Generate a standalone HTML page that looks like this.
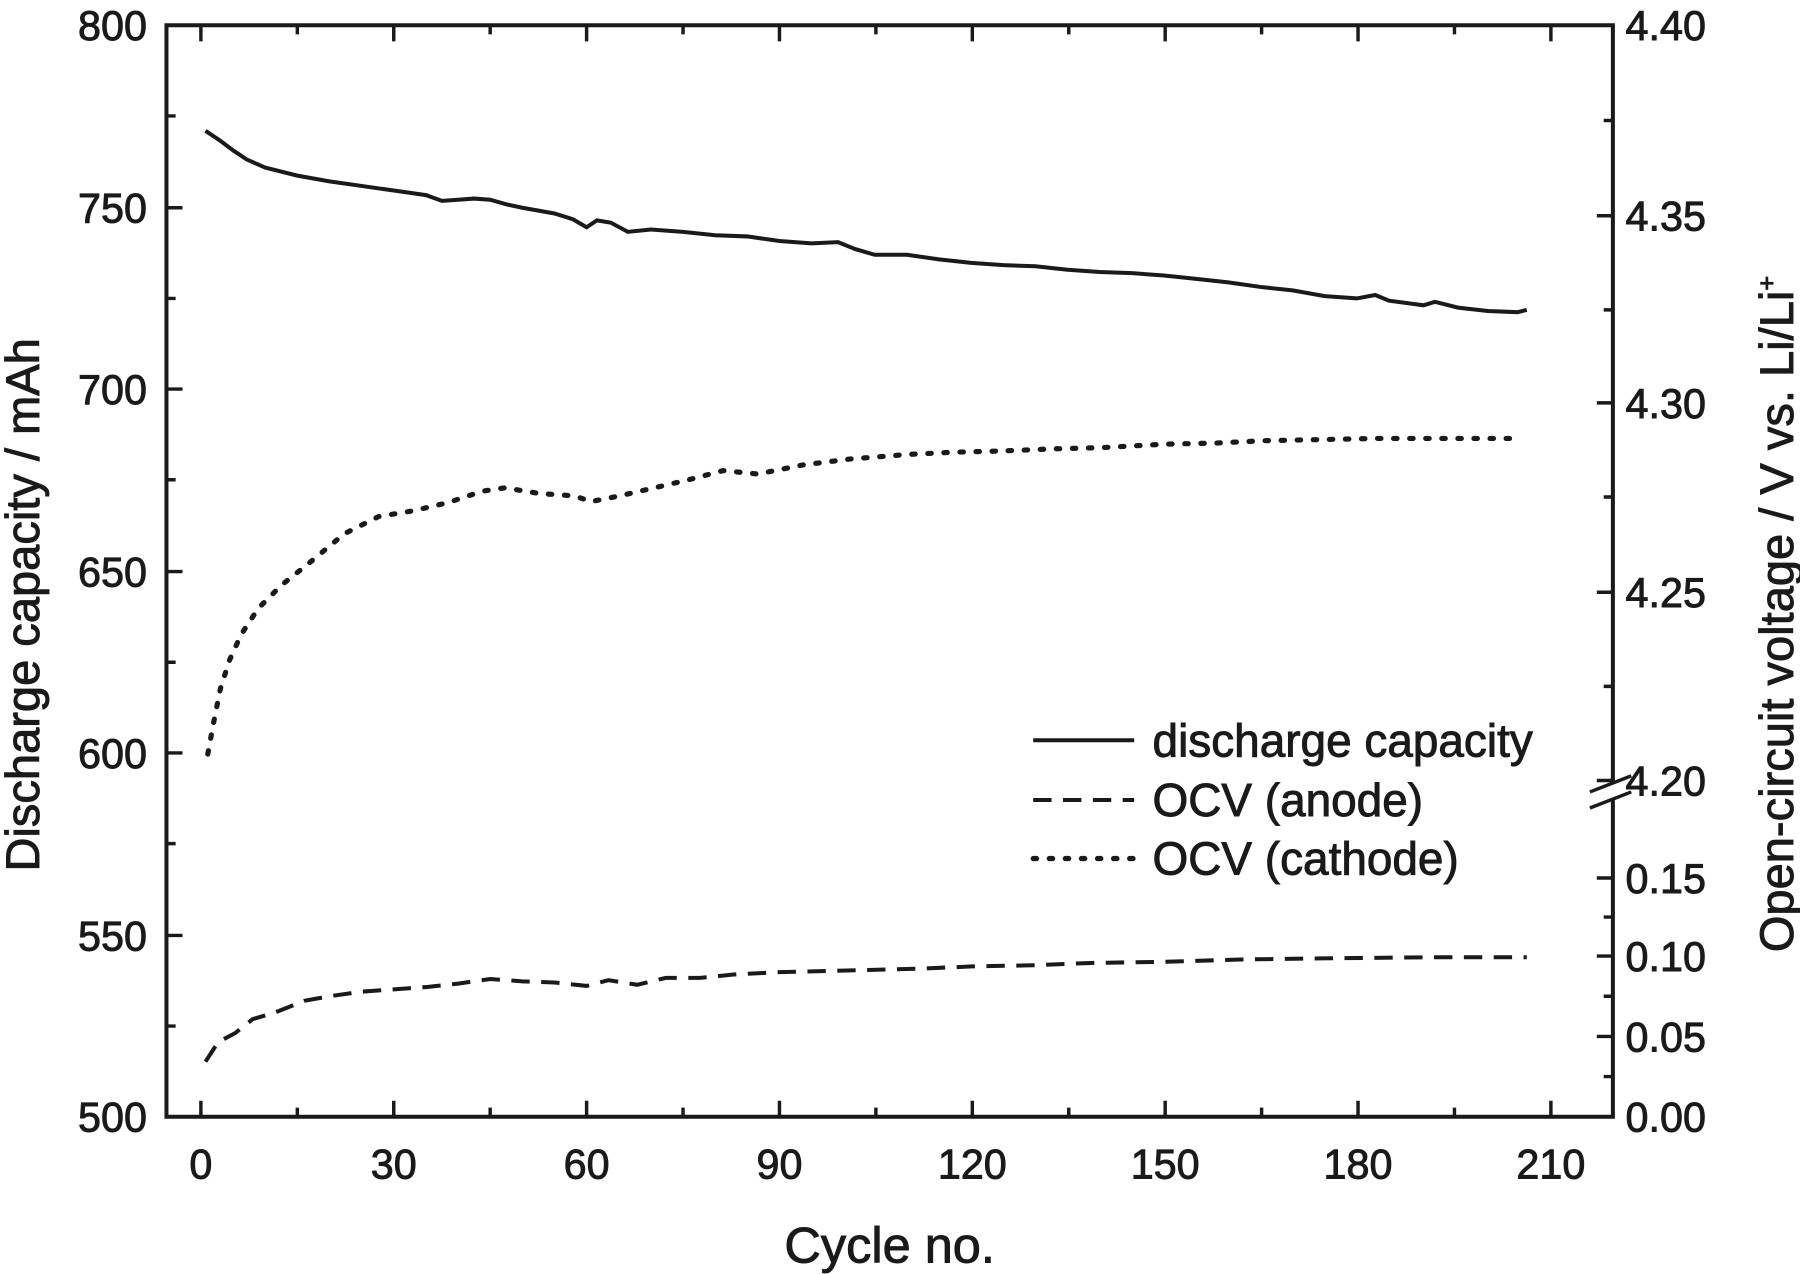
<!DOCTYPE html>
<html><head><style>html,body{margin:0;padding:0;background:#fff}svg{display:block}</style></head><body>
<svg width="1800" height="1274" viewBox="0 0 1568 1110" preserveAspectRatio="none" xmlns="http://www.w3.org/2000/svg" font-family="Liberation Sans, sans-serif" fill="#1a1a1a">
<rect x="145" y="22" width="1260" height="951" fill="none" stroke="#1a1a1a" stroke-width="3.5"/>
<g stroke="#1a1a1a" stroke-width="3">
<path d="M175 973v-14M259 973v-8M343 973v-14M427 973v-8M511 973v-14M595 973v-8M679 973v-14M763 973v-8M847 973v-14M931 973v-8M1015 973v-14M1099 973v-8M1183 973v-14M1267 973v-8M1351 973v-14
M175 22v14M259 22v8M343 22v14M427 22v8M511 22v14M595 22v8M679 22v14M763 22v8M847 22v14M931 22v8M1015 22v14M1099 22v8M1183 22v14M1267 22v8M1351 22v14"/>
<path d="M145 22h14M145 101h8M145 181h14M145 260h8M145 339h14M145 418h8M145 498h14M145 577h8M145 656h14M145 735h8M145 815h14M145 894h8M145 973h14"/>
<path d="M1405 22h-14M1405 105h-8M1405 188h-14M1405 270h-8M1405 351h-14M1405 433h-8M1405 516h-14M1405 598h-8M1405 680h-14M1405 765h-14M1405 799h-8M1405 833h-14M1405 868h-8M1405 903h-14M1405 938h-8"/>
</g>
<rect x="1395" y="682" width="20" height="14" fill="#fff"/>
<path d="M1385 690l36-14M1385 704l36-14" stroke="#1a1a1a" stroke-width="3"/>
<g stroke="#1a1a1a" stroke-width="0.8">
<g font-size="36" text-anchor="end">
<text x="128" y="35">800</text><text x="128" y="194">750</text><text x="128" y="352">700</text><text x="128" y="511">650</text><text x="128" y="669">600</text><text x="128" y="828">550</text><text x="128" y="986">500</text>
</g>
<g font-size="36" text-anchor="start">
<text x="1416" y="35">4.40</text><text x="1416" y="201">4.35</text><text x="1416" y="364">4.30</text><text x="1416" y="529">4.25</text><text x="1416" y="693">4.20</text><text x="1416" y="778">0.15</text><text x="1416" y="846">0.10</text><text x="1416" y="916">0.05</text><text x="1416" y="986">0.00</text>
</g>
<g font-size="36" text-anchor="middle">
<text x="175" y="1027">0</text><text x="343" y="1027">30</text><text x="511" y="1027">60</text><text x="679" y="1027">90</text><text x="847" y="1027">120</text><text x="1015" y="1027">150</text><text x="1183" y="1027">180</text><text x="1351" y="1027">210</text>
</g>
<text x="775" y="1100" font-size="44" text-anchor="middle">Cycle no.</text>
<text transform="translate(34 527) rotate(-90)" font-size="41" text-anchor="middle">Discharge capacity / mAh</text>
<text transform="translate(1562 535) rotate(-90)" font-size="41" text-anchor="middle">Open-circuit voltage / V  vs. Li/Li<tspan font-size="22" dy="-16">+</tspan></text>
<g font-size="40">
<text x="1004" y="659">discharge capacity</text>
<text x="1004" y="711">OCV (anode)</text>
<text x="1004" y="762">OCV (cathode)</text>
</g>
</g>
<g fill="none" stroke="#1a1a1a" stroke-width="3.5">
<polyline points="179,114 191,122 203,131 215,139 231,146 259,153 287,158 315,162 343,166 371,170 385,175 399,174 413,173 427,174 441,178 455,181 483,186 499,191 511,198 520,192 532,194 547,202 567,200 595,202 623,205 651,206 679,210 707,212 730,211 745,217 762,222 790,222 818,226 846,229 874,231 902,232 930,235 958,237 986,238 1014,240 1042,243 1070,246 1098,250 1126,253 1154,258 1182,260 1198,257 1210,262 1240,266 1250,263 1270,268 1296,271 1322,272 1330,270"/>
<polyline stroke-dasharray="16 10" points="179,925 190,908 205,900 220,888 240,882 265,872 287,868 315,864 343,862 371,860 399,857 427,853 455,855 483,856 511,859 530,854 555,858 580,852 610,852 640,849 679,847 720,846 760,845 800,844 847,842 900,841 950,839 1014,838 1080,836 1150,835 1250,834 1330,834"/>
<polyline stroke-dasharray="3 11" stroke-width="4.5" stroke-linecap="round" points="181,657 186,630 192,600 200,575 210,553 225,530 245,510 270,490 300,465 330,450 360,445 390,438 420,428 440,425 470,430 500,432 515,437 540,432 570,425 600,418 630,410 660,413 700,405 740,400 790,396 830,394 870,393 920,391 960,390 1014,387 1060,386 1100,384 1150,383 1200,382 1260,382 1320,382"/>
</g>
<g stroke="#1a1a1a" stroke-width="3.5">
<path d="M900 645h88"/>
<path d="M900 697h88" stroke-dasharray="16 10"/>
<path d="M900 748h88" stroke-dasharray="3 11" stroke-width="4.5" stroke-linecap="round"/>
</g>
</svg>
</body></html>
